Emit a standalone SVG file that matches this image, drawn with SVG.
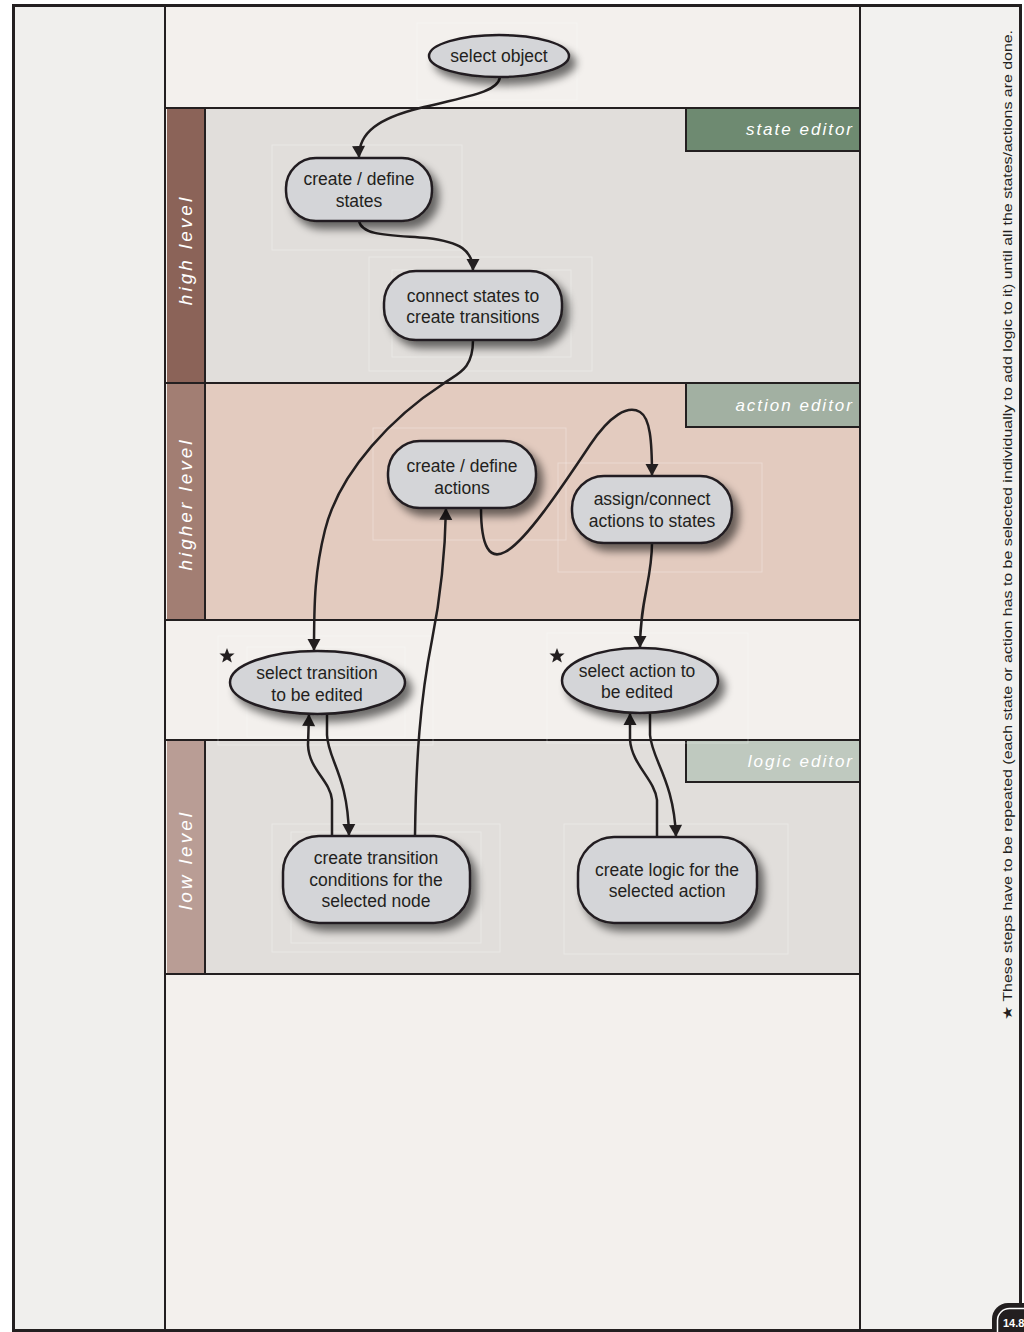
<svg xmlns="http://www.w3.org/2000/svg" width="1024" height="1332" viewBox="0 0 1024 1332">
  <style>
    .frame { fill: none; stroke: #231f20; }
    .lane-line { stroke: #231f20; stroke-width: 2; }
    .lane-label { font-family: "Liberation Sans", Arial, sans-serif; font-style: italic; font-size: 19px; letter-spacing: 3px; fill: #ffffff; text-anchor: middle; }
    .tab-label { font-family: "Liberation Sans", Arial, sans-serif; font-style: italic; font-size: 17px; letter-spacing: 2px; fill: #ffffff; text-anchor: end; }
    .node-shape { fill: #d4d5d8; stroke: #231f20; stroke-width: 2.5; }
    .node-text { font-family: "Liberation Sans", Arial, sans-serif; font-size: 17.5px; fill: #231f20; text-anchor: middle; }
    .ghost { fill: none; stroke: #ffffff; stroke-opacity: 0.3; stroke-width: 1; }
    .edge { fill: none; stroke: #231f20; stroke-width: 2.5; marker-end: url(#arrow); }
    .note { font-family: "Liberation Sans", "DejaVu Sans", Arial, sans-serif; font-size: 13px; fill: #231f20; }
  </style>
  <defs>
    <filter id="shadow" x="-30%" y="-30%" width="170%" height="180%">
      <feGaussianBlur in="SourceAlpha" stdDeviation="4"/>
      <feOffset dx="6" dy="7" result="blur"/>
      <feComponentTransfer><feFuncA type="linear" slope="0.55"/></feComponentTransfer>
      <feMerge><feMergeNode/><feMergeNode in="SourceGraphic"/></feMerge>
    </filter>
    <marker id="arrow" markerUnits="userSpaceOnUse" markerWidth="14" markerHeight="14" viewBox="0 0 14 14" refX="13" refY="7" orient="auto">
      <path d="M1,0.5 L13,7 L1,13.5 Z" fill="#231f20"/>
    </marker>
    <path id="star" d="M0,-8 L2.1,-2.6 L7.6,-2.5 L3.3,1 L4.8,6.5 L0,3.4 L-4.8,6.5 L-3.3,1 L-7.6,-2.5 L-2.1,-2.6 Z" fill="#231f20"/>
  </defs>

  <!-- page -->
  <rect x="0" y="0" width="1024" height="1332" fill="#ffffff"/>
  <rect x="15" y="7" width="150" height="1324" fill="#f0efed"/>
  <rect x="165" y="7" width="695" height="1324" fill="#f3f0ed"/>
  <rect x="860" y="7" width="161" height="1324" fill="#f2f1ef"/>

  <!-- swimlanes -->
  <g id="lanes">
    <rect x="167" y="108" width="693" height="275" fill="#e1dedb"/>
    <rect x="167" y="108" width="38" height="275" fill="#8b6358"/>
    <rect x="167" y="383" width="693" height="237" fill="#e3cbbf"/>
    <rect x="167" y="383" width="38" height="237" fill="#a27e73"/>
    <rect x="167" y="740" width="693" height="234" fill="#e1dedb"/>
    <rect x="167" y="740" width="38" height="234" fill="#b99d95"/>

    <line class="lane-line" x1="165" y1="108" x2="860" y2="108"/>
    <line class="lane-line" x1="165" y1="383" x2="860" y2="383"/>
    <line class="lane-line" x1="165" y1="620" x2="860" y2="620"/>
    <line class="lane-line" x1="165" y1="740" x2="860" y2="740"/>
    <line class="lane-line" x1="165" y1="974" x2="860" y2="974"/>
    <line class="lane-line" x1="205" y1="108" x2="205" y2="620"/>
    <line class="lane-line" x1="205" y1="740" x2="205" y2="974"/>

    <text class="lane-label" transform="translate(192,250) rotate(-90)">high level</text>
    <text class="lane-label" transform="translate(192,504) rotate(-90)">higher level</text>
    <text class="lane-label" transform="translate(192,860) rotate(-90)">low level</text>
  </g>

  <!-- editor tabs -->
  <g id="tab-state-editor">
    <rect x="686" y="108" width="174" height="43" fill="#6e8a71" stroke="#231f20" stroke-width="2"/>
    <text class="tab-label" x="854" y="135">state editor</text>
  </g>
  <g id="tab-action-editor">
    <rect x="686" y="383" width="174" height="44" fill="#a2b0a2" stroke="#231f20" stroke-width="2"/>
    <text class="tab-label" x="854" y="411">action editor</text>
  </g>
  <g id="tab-logic-editor">
    <rect x="686" y="740" width="174" height="42" fill="#bfc9bf" stroke="#231f20" stroke-width="2"/>
    <text class="tab-label" x="854" y="767">logic editor</text>
  </g>

  <!-- column dividers and frame -->
  <line x1="165" y1="7" x2="165" y2="1331" stroke="#231f20" stroke-width="2"/>
  <line x1="860" y1="7" x2="860" y2="1331" stroke="#231f20" stroke-width="2"/>
  <rect class="frame" x="13.5" y="5.5" width="1007" height="1325" stroke-width="3"/>

  <!-- faint layout boxes -->
  <g id="guides">
    <rect class="ghost" x="417" y="23" width="160" height="77"/>
    <rect class="ghost" x="272" y="145" width="190" height="105"/>
    <rect class="ghost" x="369" y="257" width="223" height="114"/>
    <rect class="ghost" x="392" y="270" width="179" height="87"/>
    <rect class="ghost" x="373" y="428" width="193" height="112"/>
    <rect class="ghost" x="558" y="463" width="204" height="109"/>
    <rect class="ghost" x="218" y="636" width="215" height="109"/>
    <rect class="ghost" x="247" y="647" width="158" height="90"/>
    <rect class="ghost" x="547" y="633" width="201" height="110"/>
    <rect class="ghost" x="272" y="824" width="228" height="128"/>
    <rect class="ghost" x="291" y="832" width="190" height="111"/>
    <rect class="ghost" x="564" y="824" width="224" height="130"/>
  </g>

  <!-- connectors -->
  <g id="connectors">
    <path class="edge" d="M500,77 C498,92 470,96 420,108 C380,118 358,132 359,158"/>
    <path class="edge" d="M359,221 C362,236 390,235 427,238 C460,242 473,250 473,271"/>
    <path class="edge" d="M473,340 C473,370 458,373 443,384 C395,415 340,470 325,530 C315,570 314,600 314,651"/>
    <path class="edge" d="M415,836 C416,760 420,700 432,640 C440,600 445,560 446,508"/>
    <path class="edge" d="M481,508 C481,548 490,560 505,552 C525,542 560,490 590,445 C610,415 628,405 640,412 C650,418 652,440 652,476"/>
    <path class="edge" d="M652,543 C652,580 640,600 640,648"/>
    <path class="edge" d="M332,836 L332,800 C330,780 309,770 308,745 L309,714"/>
    <path class="edge" d="M327,714 L327,735 C328,760 348,775 349,836"/>
    <path class="edge" d="M657,837 L657,800 C655,780 632,765 630,740 L630,713"/>
    <path class="edge" d="M650,713 L650,735 C652,760 674,780 676,837"/>
  </g>

  <!-- nodes -->
  <g id="node-select-object">
    <ellipse class="node-shape" cx="499" cy="56" rx="70" ry="21" filter="url(#shadow)"/>
    <text class="node-text" x="499" y="62">select object</text>
  </g>
  <g id="node-define-states">
    <rect class="node-shape" x="286" y="158" width="146" height="63" rx="30" filter="url(#shadow)"/>
    <text class="node-text" x="359" y="185">create / define</text>
    <text class="node-text" x="359" y="207">states</text>
  </g>
  <g id="node-connect-states">
    <rect class="node-shape" x="384" y="271" width="178" height="69" rx="32" filter="url(#shadow)"/>
    <text class="node-text" x="473" y="302">connect states to</text>
    <text class="node-text" x="473" y="323">create transitions</text>
  </g>
  <g id="node-define-actions">
    <rect class="node-shape" x="388" y="441" width="148" height="67" rx="32" filter="url(#shadow)"/>
    <text class="node-text" x="462" y="472">create / define</text>
    <text class="node-text" x="462" y="494">actions</text>
  </g>
  <g id="node-assign-actions">
    <rect class="node-shape" x="572" y="476" width="160" height="67" rx="32" filter="url(#shadow)"/>
    <text class="node-text" x="652" y="505">assign/connect</text>
    <text class="node-text" x="652" y="527">actions to states</text>
  </g>
  <g id="node-select-transition">
    <ellipse class="node-shape" cx="317.5" cy="682.5" rx="87.5" ry="31.5" filter="url(#shadow)"/>
    <text class="node-text" x="317" y="679">select transition</text>
    <text class="node-text" x="317" y="701">to be edited</text>
    <use href="#star" x="227" y="656"/>
  </g>
  <g id="node-select-action">
    <ellipse class="node-shape" cx="640" cy="680.5" rx="78" ry="32.5" filter="url(#shadow)"/>
    <text class="node-text" x="637" y="677">select action to</text>
    <text class="node-text" x="637" y="698">be edited</text>
    <use href="#star" x="557" y="656"/>
  </g>
  <g id="node-transition-conditions">
    <rect class="node-shape" x="283" y="836" width="187" height="87" rx="36" filter="url(#shadow)"/>
    <text class="node-text" x="376" y="864">create transition</text>
    <text class="node-text" x="376" y="886">conditions for the</text>
    <text class="node-text" x="376" y="907">selected node</text>
  </g>
  <g id="node-action-logic">
    <rect class="node-shape" x="578" y="837" width="179" height="86" rx="36" filter="url(#shadow)"/>
    <text class="node-text" x="667" y="876">create logic for the</text>
    <text class="node-text" x="667" y="897">selected action</text>
  </g>

  <!-- side note -->
  <text class="note" transform="translate(1012,525) rotate(-90)" text-anchor="middle" textLength="990" lengthAdjust="spacingAndGlyphs">★ These steps have to be repeated (each state or action has to be selected individually to add logic to it) until all the states/actions are done.</text>

  <!-- page tab -->
  <g id="page-tab">
    <rect x="992" y="1303" width="60" height="60" rx="16" fill="#231f20"/>
    <rect x="997.5" y="1308.5" width="60" height="60" rx="12" fill="none" stroke="#ffffff" stroke-width="1.5"/>
    <text x="1003" y="1327" font-family="Liberation Sans, Arial, sans-serif" font-size="11" font-weight="bold" fill="#ffffff">14.8</text>
  </g>
</svg>
